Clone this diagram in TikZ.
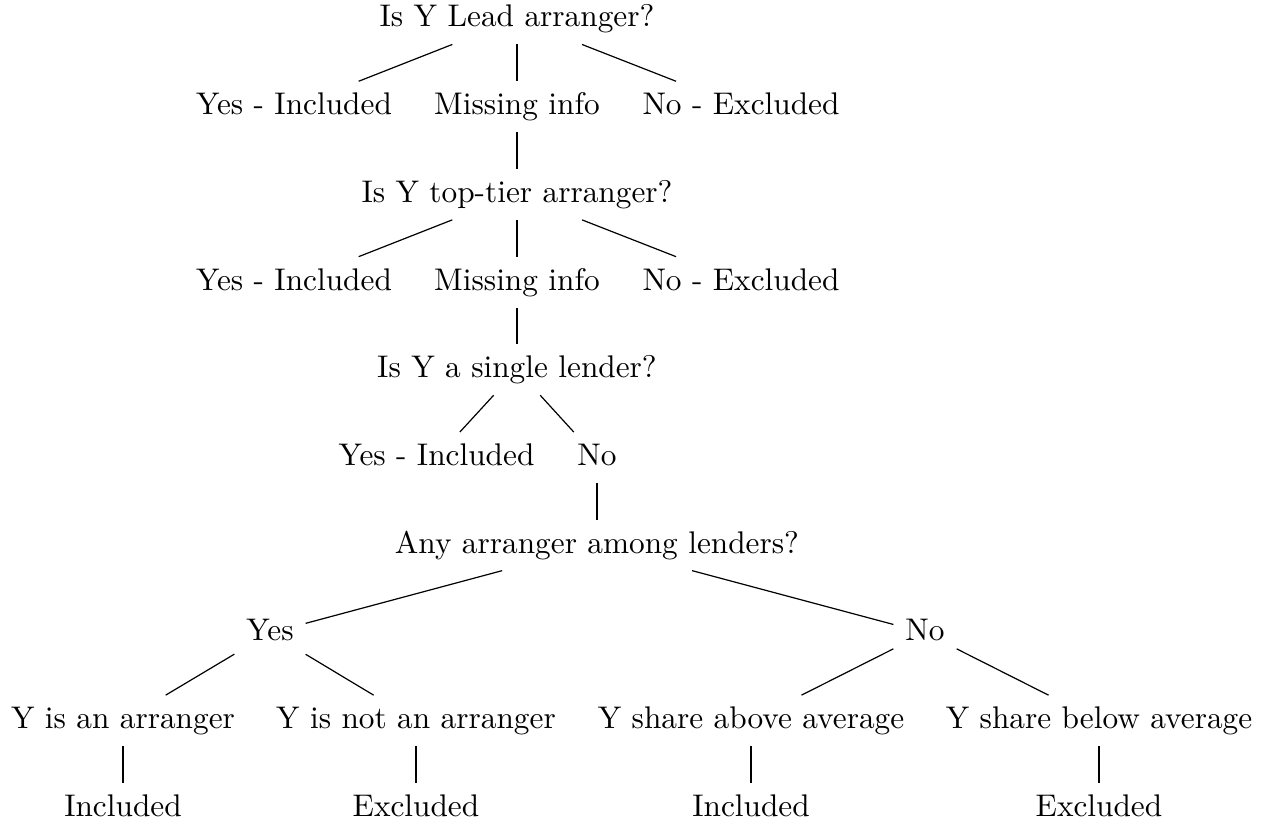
\documentclass[tikz,border=0pt]{standalone}
\begin{document}
\begin{tikzpicture}[x=0.3322pt,y=-0.3322pt,
  lbl/.style={font=\fontsize{10.4pt}{12.5pt}\selectfont, inner xsep=3.8pt, inner ysep=3.6pt, text height=7.3pt, text depth=2pt},
  edge/.style={draw, line width=0.4pt}]
\useasboundingbox (0,0) rectangle (1263,824);
% level 0
\node[lbl] (q1) at (517,19) {Is Y Lead arranger?};
% level 1
\node[lbl] (a1) at (294,106.7) {Yes - Included};
\node[lbl] (m1) at (517,106.7) {Missing info};
\node[lbl] (n1) at (741,106.7) {No - Excluded};
% level 2
\node[lbl] (q2) at (517,194.4) {Is Y top-tier arranger?};
% level 3
\node[lbl] (a2) at (294,282.1) {Yes - Included};
\node[lbl] (m2) at (517,282.1) {Missing info};
\node[lbl] (n2) at (741,282.1) {No - Excluded};
% level 4
\node[lbl] (q3) at (517,369.8) {Is Y a single lender?};
% level 5
\node[lbl] (a3) at (436.5,457.5) {Yes - Included};
\node[lbl] (n3) at (597,457.5) {No};
% level 6
\node[lbl] (q4) at (597,545.2) {Any arranger among lenders?};
% level 7
\node[lbl] (y4) at (270,632.9) {Yes};
\node[lbl] (n4) at (925,632.9) {No};
% level 8
\node[lbl] (c1) at (123,720.6) {Y is an arranger};
\node[lbl] (c2) at (416,720.6) {Y is not an arranger};
\node[lbl] (c3) at (751,720.6) {Y share above average};
\node[lbl] (c4) at (1099,720.6) {Y share below average};
% level 9
\node[lbl] (d1) at (123,808.3) {Included};
\node[lbl] (d2) at (416,808.3) {Excluded};
\node[lbl] (d3) at (751,808.3) {Included};
\node[lbl] (d4) at (1099,808.3) {Excluded};
% edges
\path[edge] (q1) -- (a1);
\path[edge] (q1) -- (m1);
\path[edge] (q1) -- (n1);
\path[edge] (m1) -- (q2);
\path[edge] (q2) -- (a2);
\path[edge] (q2) -- (m2);
\path[edge] (q2) -- (n2);
\path[edge] (m2) -- (q3);
\path[edge] (q3) -- (a3);
\path[edge] (q3) -- (n3);
\path[edge] (n3) -- (q4);
\path[edge] (q4) -- (y4);
\path[edge] (q4) -- (n4);
\path[edge] (y4) -- (c1);
\path[edge] (y4) -- (c2);
\path[edge] (n4) -- (c3);
\path[edge] (n4) -- (c4);
\path[edge] (c1) -- (d1);
\path[edge] (c2) -- (d2);
\path[edge] (c3) -- (d3);
\path[edge] (c4) -- (d4);
\end{tikzpicture}
\end{document}
